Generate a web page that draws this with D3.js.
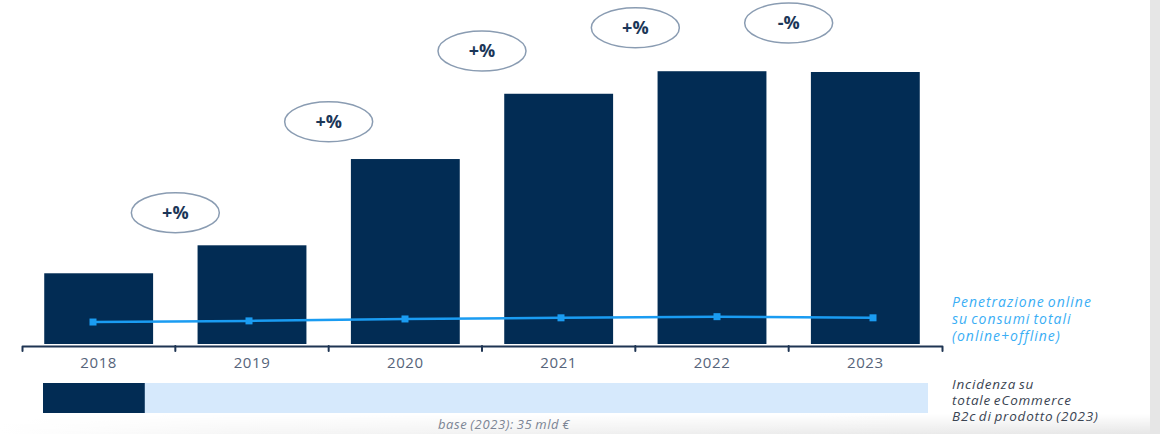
<!DOCTYPE html>
<html>
<head>
<meta charset="utf-8">
<script src="https://cdn.jsdelivr.net/npm/d3@7"></script>
<style>
  body { margin: 0; background: #fff; }
  svg { display: block; font-family: "Open Sans", sans-serif; }
</style>
</head>
<body>
<div id="chart"></div>
<script>
// valori (mld €, quota %)
var years = ["2018", "2019", "2020", "2021", "2022", "2023"];
var sales = [9.1, 12.7, 23.8, 32.2, 35.1, 35.0];
var penetration = [6.0, 6.3, 6.8, 7.1, 7.4, 7.1];
var badges = ["", "+%", "+%", "+%", "+%", "-%"];
var badgeLevel = [0, 16.9, 28.6, 37.7, 40.7, 41.3];
var share2023 = 11.5;

var W = 1160, H = 434;
var dark = "#022c54", lineBlue = "#1a9cf2";

var svg = d3.select("#chart").append("svg")
	.attr("width", W)
	.attr("height", H);

// sfondo: ombra in basso e banda grigia a destra
var defs = svg.append("defs");
var grad = defs.append("linearGradient")
	.attr("id", "shadow")
	.attr("x1", 0).attr("y1", 0).attr("x2", 1).attr("y2", 0);
grad.append("stop").attr("offset", "0%").attr("stop-color", "#ffffff");
grad.append("stop").attr("offset", "20%").attr("stop-color", "#f6f6f6");
grad.append("stop").attr("offset", "100%").attr("stop-color", "#e6e6e6");

var fade = defs.append("linearGradient")
	.attr("id", "fade")
	.attr("x1", 0).attr("y1", 0).attr("x2", 0).attr("y2", 1);
fade.append("stop").attr("offset", "0%").attr("stop-color", "#000");
fade.append("stop").attr("offset", "100%").attr("stop-color", "#fff");

defs.append("mask")
	.attr("id", "fadeMask")
	.attr("maskContentUnits", "objectBoundingBox")
	.append("rect")
	.attr("width", 1).attr("height", 1)
	.attr("fill", "url(#fade)");

svg.append("rect")
	.attr("x", 0).attr("y", 414).attr("width", 1150).attr("height", 20)
	.attr("fill", "url(#shadow)")
	.attr("mask", "url(#fadeMask)");
svg.append("rect")
	.attr("x", 1150).attr("y", 0).attr("width", 10).attr("height", H)
	.attr("fill", "#e6e6e6");

var x = d3.scaleBand()
	.domain(years)
	.range([22, 942])
	.paddingInner(0.29)
	.paddingOuter(0.145);

var y = d3.scaleLinear()
	.domain([0, 35])
	.range([344, 72]);

var yPen = d3.scaleLinear()
	.domain([0, 70])
	.range([345, 77]);

var xPen = d3.scalePoint()
	.domain(years)
	.range([93, 873]);

// barre
svg.selectAll(".bar")
	.data(years)
	.enter()
	.append("rect")
	.attr("class", "bar")
	.attr("x", function (d) { return x(d); })
	.attr("y", function (d, i) { return y(sales[i]); })
	.attr("width", x.bandwidth())
	.attr("height", function (d, i) { return y(0) - y(sales[i]); })
	.attr("fill", dark);

// asse x
var axisY = 346;
var axis = svg.append("g")
	.attr("transform", "translate(0," + axisY + ")")
	.call(d3.axisBottom(x).tickSizeInner(0).tickSizeOuter(5).tickPadding(11));
axis.select(".domain")
	.attr("stroke", "#1f3553")
	.attr("stroke-width", 2)
	.attr("stroke-linejoin", "round")
	.attr("stroke-linecap", "round");
axis.selectAll(".tick text")
	.attr("font-size", 15)
	.attr("letter-spacing", 0.6)
	.attr("fill", "#56647a")
	.attr("font-family", "Open Sans, sans-serif");

var gap = x.step() * x.paddingInner() / 2;
svg.selectAll(".sep")
	.data(years.slice(1))
	.enter()
	.append("line")
	.attr("x1", function (d) { return x(d) - gap; })
	.attr("x2", function (d) { return x(d) - gap; })
	.attr("y1", axisY)
	.attr("y2", axisY + 5)
	.attr("stroke", "#1f3553")
	.attr("stroke-width", 2)
	.attr("stroke-linecap", "round");

// linea penetrazione
var line = d3.line()
	.x(function (d) { return xPen(d); })
	.y(function (d, i) { return yPen(penetration[i]); });

svg.append("path")
	.datum(years)
	.attr("d", line)
	.attr("fill", "none")
	.attr("stroke", lineBlue)
	.attr("stroke-width", 2.5);

svg.selectAll(".pt")
	.data(years)
	.enter()
	.append("rect")
	.attr("x", function (d) { return xPen(d) - 3.5; })
	.attr("y", function (d, i) { return yPen(penetration[i]) - 3.5; })
	.attr("width", 7)
	.attr("height", 7)
	.attr("fill", lineBlue);

// ellissi variazione
var badge = svg.selectAll(".badge")
	.data(years.slice(1))
	.enter()
	.append("g")
	.attr("transform", function (d, i) {
		return "translate(" + (x(d) - gap) + "," + y(badgeLevel[i + 1]) + ")";
	});

badge.append("ellipse")
	.attr("rx", 44)
	.attr("ry", 20)
	.attr("fill", "#fff")
	.attr("stroke", "#8a9cb2")
	.attr("stroke-width", 1.5);

badge.append("text")
	.attr("text-anchor", "middle")
	.attr("dy", "0.35em")
	.attr("font-size", 18)
	.attr("font-weight", "bold")
	.attr("fill", "#1b3658")
	.text(function (d, i) { return badges[i + 1]; });

// barra incidenza
var xs = d3.scaleLinear().domain([0, 100]).range([43, 928]);
svg.append("rect")
	.attr("x", xs(0)).attr("y", 383)
	.attr("width", xs(100) - xs(0)).attr("height", 30)
	.attr("fill", "#d6e9fc");
svg.append("rect")
	.attr("x", xs(0)).attr("y", 383)
	.attr("width", xs(share2023) - xs(0)).attr("height", 30)
	.attr("fill", dark);

svg.append("text")
	.attr("x", 438).attr("y", 429)
	.attr("font-size", 13)
	.attr("font-style", "italic")
	.attr("letter-spacing", 0.6)
	.attr("word-spacing", -1)
	.attr("fill", "#7b8494")
	.text("base (2023): 35 mld €");

// legende a destra
var pen = ["Penetrazione online", "su consumi totali", "(online+offline)"];
svg.selectAll(".lp")
	.data(pen)
	.enter()
	.append("text")
	.attr("x", 952)
	.attr("y", function (d, i) { return 307 + i * 17; })
	.attr("font-size", 14)
	.attr("font-style", "italic")
	.attr("letter-spacing", 1)
	.attr("word-spacing", -1.5)
	.attr("fill", "#3aaef5")
	.text(function (d) { return d; });

var inc = ["Incidenza su", "totale eCommerce", "B2c di prodotto (2023)"];
svg.selectAll(".li")
	.data(inc)
	.enter()
	.append("text")
	.attr("x", 952)
	.attr("y", function (d, i) { return 389 + i * 16; })
	.attr("font-size", 13.5)
	.attr("font-style", "italic")
	.attr("letter-spacing", 0.8)
	.attr("word-spacing", -1.5)
	.attr("fill", "#3a4452")
	.text(function (d) { return d; });
</script>
</body>
</html>
